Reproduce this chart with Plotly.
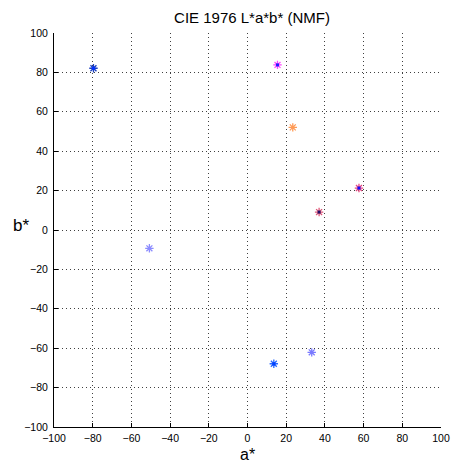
import plotly.graph_objects as go

a_vals = [-79.6, 15.5, 23.4, 57.6, 37.0, -50.7, 13.6, 33.2]
b_vals = [82.1, 83.8, 52.1, 21.3, 9.1, -9.3, -67.9, -62.1]
star_colors = ["#1a3fbf", "#ff44ff", "#ff9a55", "#e8457f", "#e05a7a", "#8c8cff", "#2a6aff", "#7a7aff"]
center_idx = [0, 1, 3, 4, 6]
center_colors = ["#0030ff", "#2020ff", "#1010ff", "#20106a", "#0040ff"]
tick_vals = [-100, -80, -60, -40, -20, 0, 20, 40, 60, 80, 100]

# page body has an 8px default margin, so the figure is sized to fit the window
W, H = 452, 458
L, R, T, B = 46, 10, 25, 39
PW, PH = W - L - R, H - T - B

fig = go.Figure()
fig.add_trace(go.Scatter(
    x=a_vals, y=b_vals, mode="markers",
    marker=dict(symbol="asterisk-open", size=7, color=star_colors,
                line=dict(width=1.3, color=star_colors)),
    showlegend=False, hoverinfo="x+y"))
fig.add_trace(go.Scatter(
    x=[a_vals[i] for i in center_idx], y=[b_vals[i] for i in center_idx],
    mode="markers",
    marker=dict(symbol="square", size=3, color=center_colors, line=dict(width=0)),
    showlegend=False, hoverinfo="skip"))

FONT = "Liberation Sans, Arial"
axis_common = dict(
    range=[-100, 100], tickvals=tick_vals, ticks="inside", ticklen=4,
    tickcolor="black", tickwidth=1, showgrid=True, gridcolor="rgba(0,0,0,0.75)",
    gridwidth=1, griddash="1px,3px", zeroline=False, showline=True, linecolor="black",
    linewidth=1, mirror=False, tickfont=dict(family=FONT, size=10.5, color="black"),
    fixedrange=True,
)
fig.update_layout(
    width=W, height=H,
    margin=dict(l=L, r=R, t=T, b=B),
    paper_bgcolor="white", plot_bgcolor="white",
    title=dict(text="CIE 1976 L*a*b* (NMF)", x=(L + PW / 2) / W, xanchor="center", y=1 - 9.5 / H,
               yanchor="middle", font=dict(family=FONT, size=15, color="black")),
    xaxis=dict(**axis_common, ticklabelstandoff=1),
    yaxis=dict(**axis_common, ticklabelstandoff=3),
    annotations=[
        dict(text="a*", xref="paper", yref="paper", x=0.5, y=-27 / PH, xanchor="center", yanchor="middle",
             showarrow=False, font=dict(family=FONT, size=16, color="black")),
        dict(text="b*", xref="paper", yref="paper", x=-34 / PW, y=0.5 + 5 / PH, xanchor="center",
             yanchor="middle", showarrow=False, font=dict(family=FONT, size=17, color="black")),
    ],
)
fig.write_html("out.html")
